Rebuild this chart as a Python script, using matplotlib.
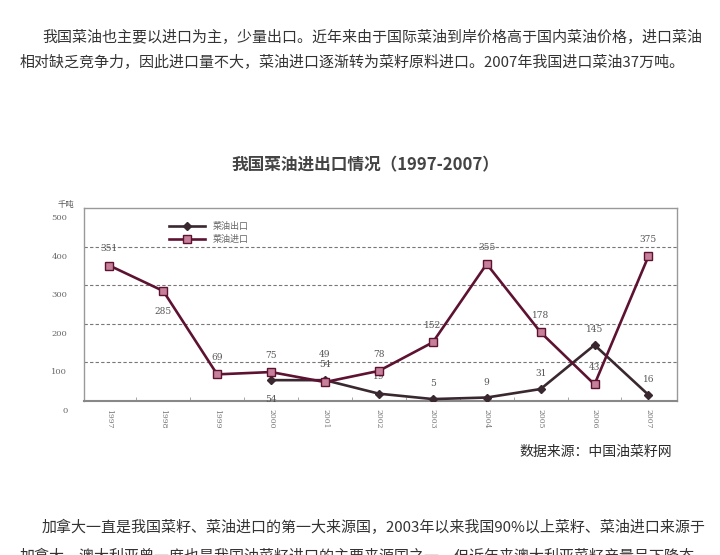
import matplotlib.pyplot as plt
import matplotlib.transforms as mtransforms
import numpy as np

plt.rcParams['font.family'] = ['Noto Sans CJK SC', 'DejaVu Sans']

years = ['1997', '1998', '1999', '2000', '2001', '2002', '2003', '2004', '2005', '2006', '2007']
imports = [351, 285, 69, 75, 49, 78, 152, 355, 178, 43, 375]
exports = [None, None, None, 54, 54, 19, 5, 9, 31, 145, 16]
yticks = [0, 100, 200, 300, 400, 500]

para1 = ['我国菜油也主要以进口为主，少量出口。近年来由于国际菜油到岸价格高于国内菜油价格，进口菜油',
         '相对缺乏竞争力，因此进口量不大，菜油进口逐渐转为菜籽原料进口。2007年我国进口菜油37万吨。']
para2 = ['加拿大一直是我国菜籽、菜油进口的第一大来源国，2003年以来我国90%以上菜籽、菜油进口来源于',
         '加拿大，澳大利亚曾一度也是我国油菜籽进口的主要来源国之一，但近年来澳大利亚菜籽产量呈下降态']

W, H = 720, 555
fig = plt.figure(figsize=(7.2, 5.55), dpi=100)

txt_color = '#333333'
fig.text(42 / W, 1 - 38 / H, para1[0], fontsize=10.8, color=txt_color, va='center')
fig.text(20 / W, 1 - 63 / H, para1[1], fontsize=10.8, color=txt_color, va='center')
fig.text(42 / W, 1 - 527 / H, para2[0], fontsize=10.8, color=txt_color, va='center')
# the reference page is cut off through this line
fig.text(20 / W, 1 - 556 / H, para2[1], fontsize=10.8, color=txt_color, va='center')

fig.text(365 / W, 1 - 165 / H, '我国菜油进出口情况（1997-2007）', fontsize=12, color='#444444',
         ha='center', va='center', fontweight='bold')
fig.text(672 / W, 1 - 452 / H, '数据来源：中国油菜籽网', fontsize=10, color='#2a2a2a',
         ha='right', va='center')

ax = fig.add_axes([84 / W, 1 - 401 / H, 593 / W, 193 / H])
x = np.arange(len(years))
imp_color = '#5e1232'
exp_color = '#3a2830'

ex_x = [i for i, v in enumerate(exports) if v is not None]
ex_v = [v for v in exports if v is not None]
ax.plot(ex_x, ex_v, color=exp_color, lw=1.9, marker='D', markersize=4,
        markerfacecolor=exp_color, markeredgecolor=exp_color, label='菜油出口', zorder=3)
ax.plot(x, imports, color=imp_color, lw=1.9, marker='s', markersize=6,
        markerfacecolor='#c7809a', markeredgecolor=imp_color, label='菜油进口', zorder=4)

lab_font = dict(family='DejaVu Serif', fontsize=6.5, color='#555555', ha='center')
imp_off = [12, -15, 12, 12, 20, 12, 12, 12, 12, 12, 12]
for i, v in enumerate(imports):
    ax.annotate(str(v), (i, v), xytext=(0, imp_off[i]), textcoords='offset points',
                va='center', **lab_font)
exp_off = {3: -14, 4: 11, 5: 12, 6: 11, 7: 11, 8: 11, 9: 11, 10: 11}
for i, v in zip(ex_x, ex_v):
    ax.annotate(str(v), (i, v), xytext=(0, exp_off[i]), textcoords='offset points',
                va='center', **lab_font)

ax.set_xlim(-0.47, 10.53)
ax.set_ylim(0, 500)
ax.set_yticks(yticks)
ax.set_yticklabels([str(t) for t in yticks], family='DejaVu Serif', fontsize=6, color='#666666')
ax.tick_params(axis='y', length=0, pad=12)
offset = mtransforms.ScaledTranslation(0, -9 / 100, fig.dpi_scale_trans)
for lab in ax.get_yticklabels():
    lab.set_transform(lab.get_transform() + offset)

ax.set_xticks(x)
ax.set_xticklabels(years, rotation=270, family='DejaVu Serif', fontsize=5.5, color='#777777')
ax.tick_params(axis='x', length=0, pad=6)
ax.set_xticks(np.arange(0.5, 10, 1), minor=True)
ax.tick_params(axis='x', which='minor', length=3, direction='in', color='#999999')

for yv in [100, 200, 300, 400]:
    ax.axhline(yv, color='#777777', lw=0.8, ls=(0, (3, 2)), zorder=1)

for s in ax.spines.values():
    s.set_color('#999999')
    s.set_linewidth(1.0)
ax.spines['bottom'].set_linewidth(1.5)
ax.spines['bottom'].set_color('#888888')

fig.text(58 / W, 1 - 204 / H, '千吨', fontsize=6, color='#555555', va='center')

ax.legend(loc='upper left', bbox_to_anchor=(0.13, 0.97), frameon=False, fontsize=6.5,
          handlelength=4, labelspacing=0.5, labelcolor='#666666')

fig.savefig('out.png', dpi=100, facecolor='white')
